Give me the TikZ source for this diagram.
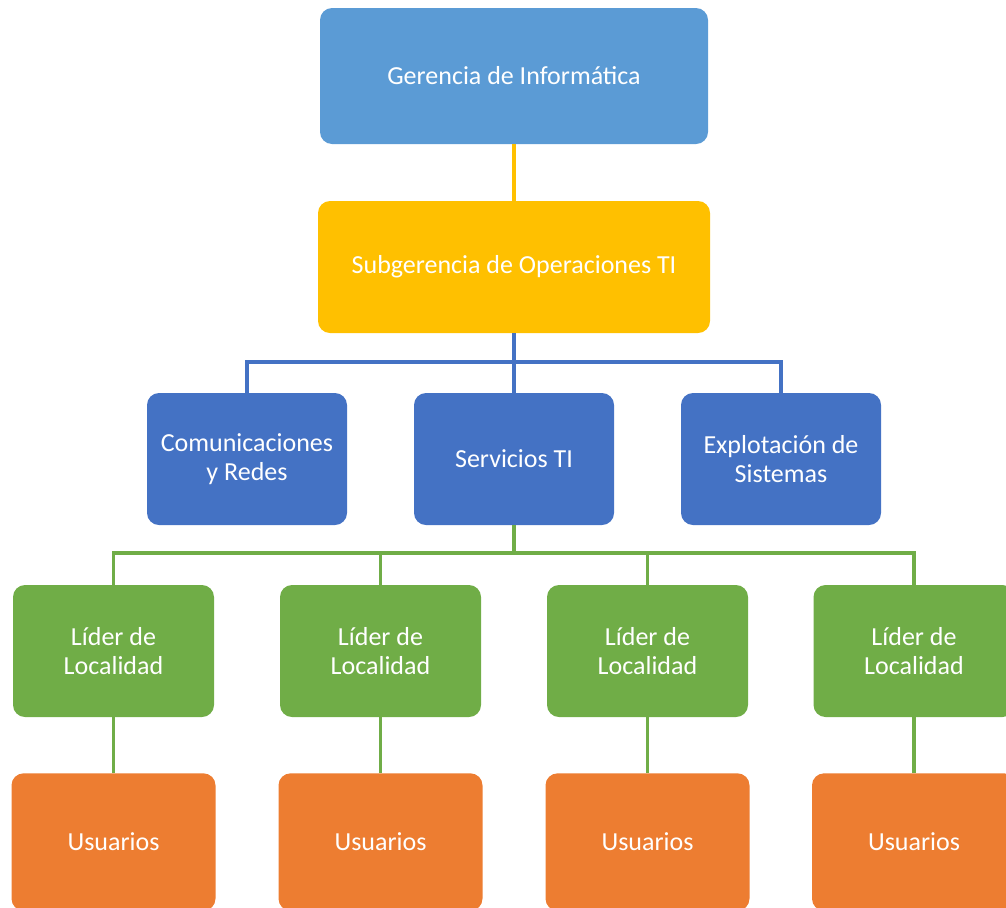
\documentclass[tikz,border=0pt]{standalone}
\usepackage{fontspec}
\setmainfont{Carlito}
\definecolor{cgeren}{HTML}{5B9BD5}
\definecolor{cgold}{HTML}{FFC000}
\definecolor{cblue}{HTML}{4472C4}
\definecolor{cgreen}{HTML}{70AD47}
\definecolor{corange}{HTML}{ED7D31}
\begin{document}
\begin{tikzpicture}[x=0.75pt,y=-0.75pt,
  box/.style={rectangle,rounded corners=9pt,inner sep=0pt,text=white,align=center,
    font=\fontsize{19.5}{21.5}\selectfont},
  boxG/.style={box,fill=cgeren,minimum width=291pt,minimum height=102pt},
  boxS/.style={box,fill=cgold,minimum width=294pt,minimum height=99pt},
  boxB/.style={box,fill=cblue,minimum width=150pt,minimum height=99pt},
  boxL/.style={box,fill=cgreen,minimum width=150.75pt,minimum height=99pt},
  boxU/.style={box,fill=corange,minimum width=153pt,minimum height=103pt},
  conn/.style={line width=2.4pt},
]
\clip (0,0) rectangle (1006,907);
\useasboundingbox (0,0) rectangle (1006,907);
\node[boxG] (G) at (514,76) {Gerencia de Informática};
\node[boxS] (S) at (514,267) {Subgerencia de Operaciones TI};
\node[boxB] (C) at (247,459) {Comunicaciones\\y Redes};
\node[boxB] (V) at (514,459) {Servicios TI};
\node[boxB] (E) at (781,459) {Explotación de\\Sistemas};
\node[boxL] (L1) at (113.5,651) {Líder de\\Localidad};
\node[boxL] (L2) at (380.5,651) {Líder de\\Localidad};
\node[boxL] (L3) at (647.5,651) {Líder de\\Localidad};
\node[boxL] (L4) at (914,651) {Líder de\\Localidad};
\node[boxU] (U1) at (113.5,842) {Usuarios};
\node[boxU] (U2) at (380.5,842) {Usuarios};
\node[boxU] (U3) at (647.5,842) {Usuarios};
\node[boxU] (U4) at (914,842) {Usuarios};
\coordinate (jb) at (514,362);
\coordinate (jg) at (514,553);
\draw[conn,cgold] (G.south) -- (S.north);
\draw[conn,cblue] (S.south) -- (V.north);
\draw[conn,cblue] (C.north) -- (C.north |- jb) -- (E.north |- jb) -- (E.north);
\draw[conn,cgreen] (V.south) -- (jg);
\draw[conn,cgreen] (L1.north) -- (L1.north |- jg) -- (L4.north |- jg) -- (L4.north);
\draw[conn,cgreen] (L2.north) -- (L2.north |- jg);
\draw[conn,cgreen] (L3.north) -- (L3.north |- jg);
\foreach \i in {1,2,3,4} {\draw[conn,cgreen] (L\i.south) -- (U\i.north);}
\end{tikzpicture}
\end{document}
